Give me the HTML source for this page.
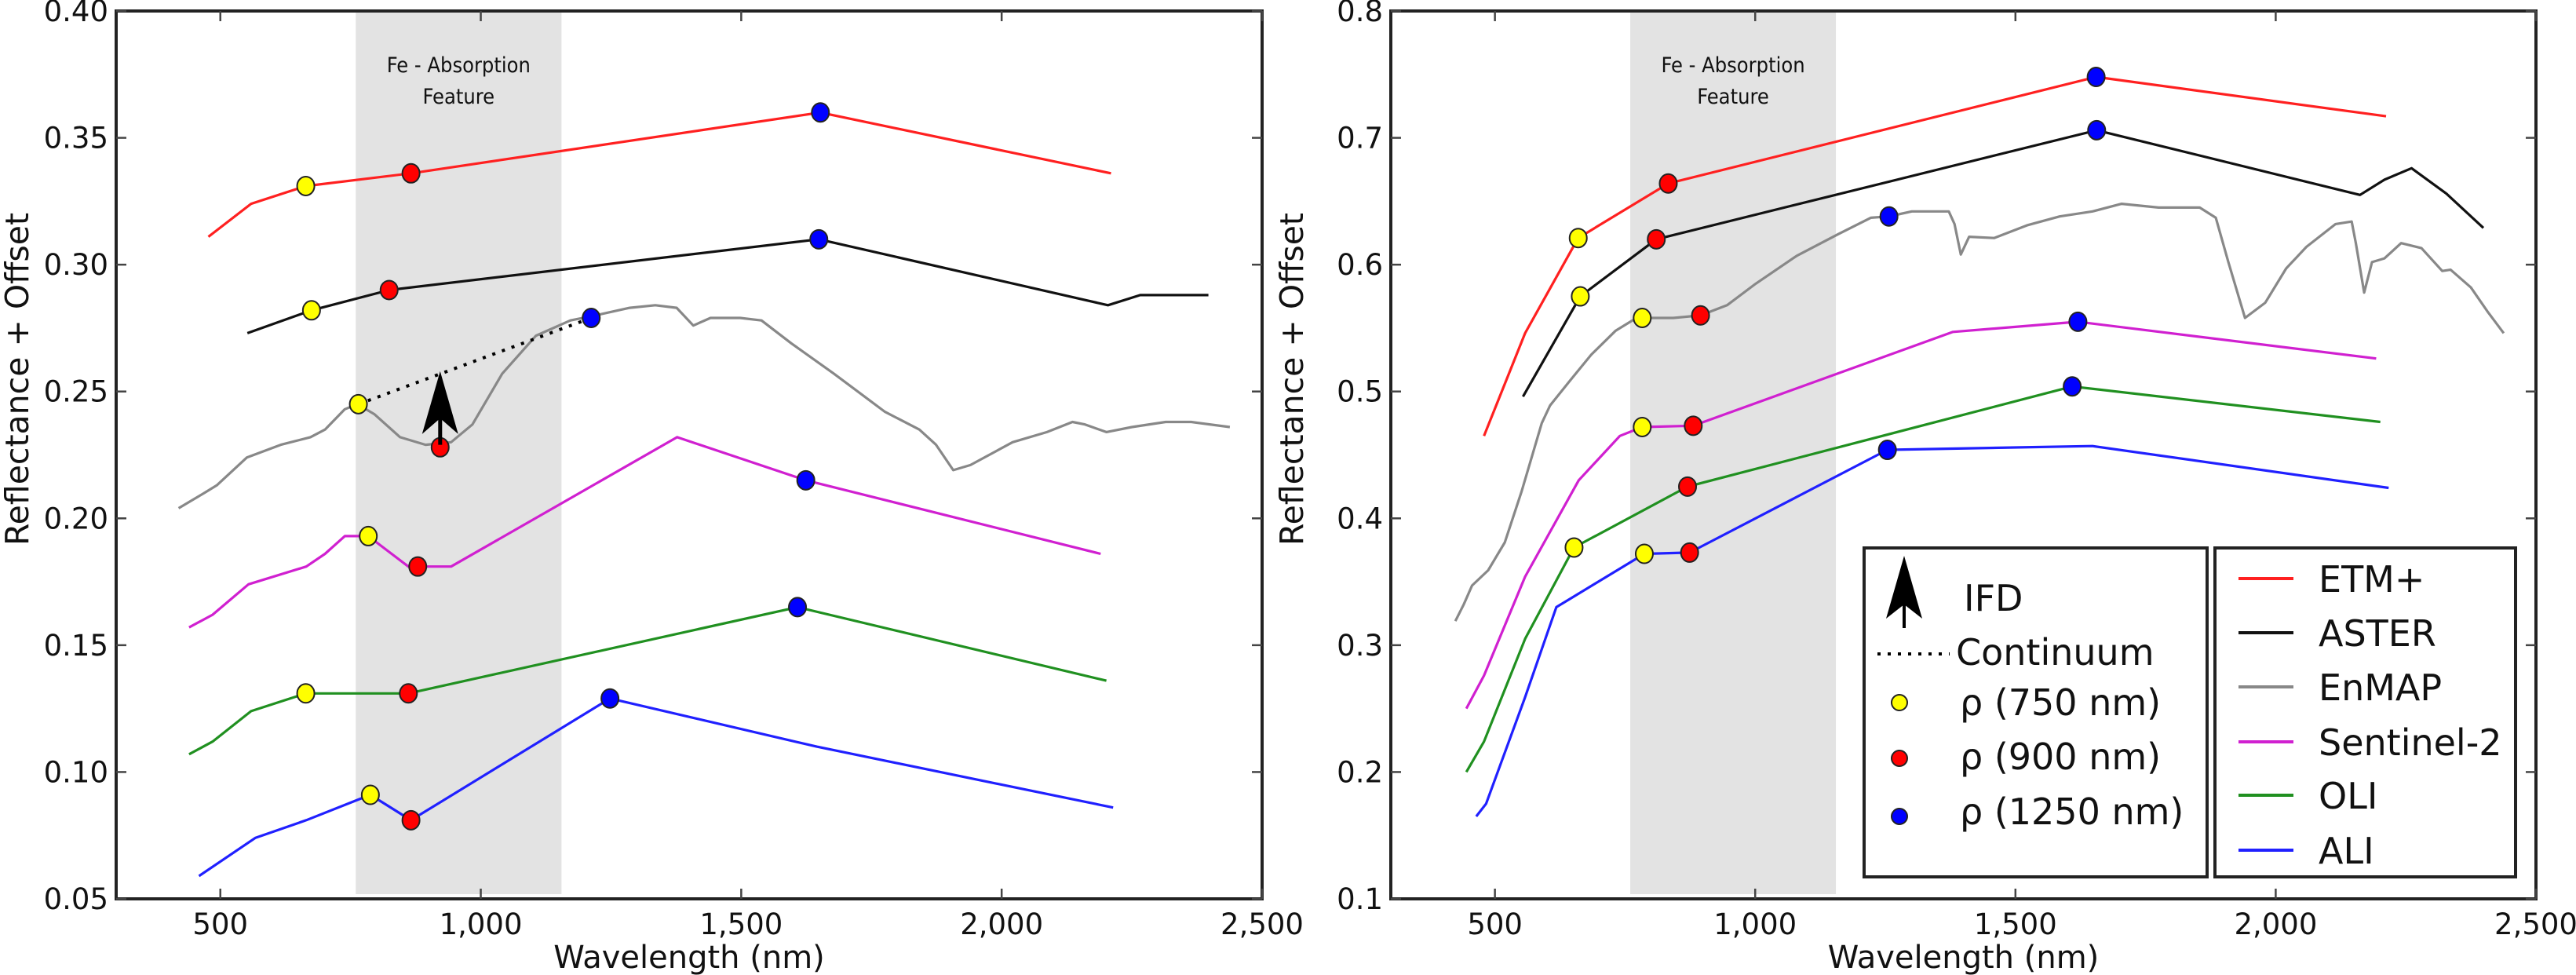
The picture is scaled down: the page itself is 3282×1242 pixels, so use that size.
<!DOCTYPE html>
<html><head><meta charset="utf-8"><style>
html,body{margin:0;padding:0;background:#fff;}
svg{display:block;}
text{font-family:"DejaVu Sans","Liberation Sans",sans-serif;fill:#111;}
</style></head><body>
<svg id="fig" width="3282" height="1242" viewBox="0 0 3282 1242" xmlns="http://www.w3.org/2000/svg"></svg>
<script>
// ---- data (wavelength nm, reflectance+offset) ----
const xTicks = [500, 1000, 1500, 2000, 2500];
const xTickLabels = ["500", "1,000", "1,500", "2,000", "2,500"];
const yTicksL = [0.05, 0.10, 0.15, 0.20, 0.25, 0.30, 0.35, 0.40];
const yTickLabelsL = ["0.05","0.10","0.15","0.20","0.25","0.30","0.35","0.40"];
const yTicksR = [0.1,0.2,0.3,0.4,0.5,0.6,0.7,0.8];
const yTickLabelsR = ["0.1","0.2","0.3","0.4","0.5","0.6","0.7","0.8"];
const shadeRange = [760, 1155];

const etmL_x = [477,559,664,866,1652,2210];
const etmL_y = [0.311,0.324,0.331,0.336,0.360,0.336];
const asterL_x = [552,675,824,1649,2204,2266,2397];
const asterL_y = [0.273,0.282,0.290,0.310,0.284,0.288,0.288];
const enmapL_x = [420,469,493,551,616,673,701,739,763,796,845,894,943,984,1041,1106,1172,1220,1286,1335,1376,1408,1441,1498,1539,1596,1678,1776,1842,1874,1907,1940,2021,2087,2136,2160,2201,2250,2315,2364,2438];
const enmapL_y = [0.204,0.210,0.213,0.224,0.229,0.232,0.235,0.243,0.245,0.241,0.232,0.229,0.230,0.237,0.257,0.272,0.278,0.280,0.283,0.284,0.283,0.276,0.279,0.279,0.278,0.269,0.257,0.242,0.235,0.229,0.219,0.221,0.230,0.234,0.238,0.237,0.234,0.236,0.238,0.238,0.236];
const s2L_x = [440,485,554,665,701,739,771,784,861,879,943,1377,1624,2190];
const s2L_y = [0.157,0.162,0.174,0.181,0.186,0.193,0.193,0.193,0.181,0.181,0.181,0.232,0.215,0.186];
const oliL_x = [440,485,559,664,861,1608,2201];
const oliL_y = [0.107,0.112,0.124,0.131,0.131,0.165,0.136];
const aliL_x = [459,567,665,763,788,866,1248,1645,2214];
const aliL_y = [0.059,0.074,0.081,0.089,0.091,0.081,0.129,0.110,0.086];
// markers left: [wl, value, color]
const yellowL_x = [664,675,765,784,664,788];
const yellowL_y = [0.331,0.282,0.245,0.193,0.131,0.091];
const redL_x = [866,824,922,879,861,866];
const redL_y = [0.336,0.290,0.228,0.181,0.131,0.081];
const blueL_x = [1652,1649,1212,1624,1608,1248];
const blueL_y = [0.360,0.310,0.279,0.215,0.165,0.129];
const continuum_x = [765,1212];
const continuum_y = [0.245,0.279];
const ifd_x = 922;
const ifd_y = [0.229,0.258];

const etmR_x = [479,558,660,833,1655,2212];
const etmR_y = [0.465,0.546,0.621,0.664,0.748,0.717];
const asterR_x = [554,664,810,1656,2162,2209,2261,2328,2399];
const asterR_y = [0.496,0.575,0.620,0.706,0.655,0.667,0.676,0.656,0.629];
const enmapR_x = [424,440,456,487,519,551,590,606,645,685,732,764,783,843,895,946,1001,1080,1159,1222,1257,1301,1372,1383,1395,1411,1459,1522,1585,1648,1704,1775,1854,1885,1909,1941,1980,2020,2059,2115,2146,2154,2170,2185,2209,2241,2280,2320,2336,2375,2407,2438];
const enmapR_y = [0.319,0.332,0.347,0.359,0.381,0.421,0.475,0.489,0.509,0.529,0.548,0.556,0.558,0.558,0.560,0.568,0.585,0.607,0.624,0.637,0.638,0.642,0.642,0.632,0.608,0.622,0.621,0.631,0.638,0.642,0.648,0.645,0.645,0.637,0.602,0.558,0.570,0.597,0.614,0.632,0.634,0.617,0.578,0.602,0.605,0.617,0.613,0.595,0.596,0.582,0.563,0.546];
const s2R_x = [445,479,558,661,740,783,881,1380,1620,2193];
const s2R_y = [0.250,0.276,0.354,0.430,0.465,0.472,0.473,0.547,0.555,0.526];
const oliR_x = [445,479,558,652,870,1609,2201];
const oliR_y = [0.200,0.224,0.305,0.377,0.425,0.504,0.476];
const aliR_x = [464,483,558,618,787,874,1254,1648,2217];
const aliR_y = [0.165,0.175,0.259,0.330,0.372,0.373,0.454,0.457,0.424];
const yellowR_x = [660,664,783,783,652,787];
const yellowR_y = [0.621,0.575,0.558,0.472,0.377,0.372];
const redR_x = [833,810,895,881,870,874];
const redR_y = [0.664,0.620,0.560,0.473,0.425,0.373];
const blueR_x = [1655,1656,1257,1620,1609,1254];
const blueR_y = [0.748,0.706,0.638,0.555,0.504,0.454];

const seriesNames = ["ETM+","ASTER","EnMAP","Sentinel-2","OLI","ALI"];
const seriesColors = ["#ff2020","#111111","#888888","#d020d0","#209020","#2020ff"];

const NS = "http://www.w3.org/2000/svg";
const svg = document.getElementById('fig');
function el(tag, attrs, parent){
  const e = document.createElementNS(NS, tag);
  for (const k in attrs) e.setAttribute(k, attrs[k]);
  (parent||svg).appendChild(e);
  return e;
}

function makePanel(cfg){
  const g = el('g', {});
  
  
  const X = v => cfg.x0 + (v - 300) / 2200 * (cfg.x1 - cfg.x0);
  const Y = v => cfg.y1 - (v - cfg.ymin) / (cfg.ymax - cfg.ymin) * (cfg.y1 - cfg.y0);
  // shade
  const sh = el('rect', {x:X(shadeRange[0]), y:cfg.y0, width:X(shadeRange[1])-X(shadeRange[0]), height:cfg.y1-cfg.y0-6, fill:'#e3e3e3'}, g);
  
  
  const cx = (X(shadeRange[0])+X(shadeRange[1]))/2;
  const t1 = el('text', {x:cx, y:92, 'text-anchor':'middle', 'font-size':27, style:'font-family:"DejaVu Sans Condensed","DejaVu Sans",sans-serif'}, g);
  t1.textContent = 'Fe - Absorption';
  
  
  const t2 = el('text', {x:cx, y:132, 'text-anchor':'middle', 'font-size':27, style:'font-family:"DejaVu Sans Condensed","DejaVu Sans",sans-serif'}, g);
  t2.textContent = 'Feature';
  
  
  // series
  cfg.series.forEach((s, i) => {
    const pts = s.x.map((v, j) => X(v).toFixed(1) + ',' + Y(s.y[j]).toFixed(1)).join(' ');
    const pl = el('polyline', {points:pts, fill:'none', stroke:seriesColors[i], 'stroke-width':3.2, 'stroke-linejoin':'round'}, g);
    
    
  });
  // continuum + ifd
  if (cfg.continuum){
    const c = el('line', {x1:X(continuum_x[0]), y1:Y(continuum_y[0]), x2:X(continuum_x[1]), y2:Y(continuum_y[1]), stroke:'#000', 'stroke-width':4, 'stroke-dasharray':'4 9'}, g);
    
    
  }
  // markers
  const mk = (xs, ys, col, nm) => xs.forEach((v, j) => {
    const m = el('ellipse', {cx:X(v), cy:Y(ys[j]), rx:11, ry:12, fill:col, stroke:'#222', 'stroke-width':2}, g);
    
    
  });
  mk(cfg.yx, cfg.yy, '#ffff00', 'marker-750nm');
  mk(cfg.rx, cfg.ry, '#ff0000', 'marker-900nm');
  mk(cfg.bx, cfg.by, '#0000ff', 'marker-1250nm');
  if (cfg.continuum){
    const ax = X(ifd_x), yb = Y(ifd_y[0]), yt = Y(ifd_y[1]);
    const sh2 = el('line', {x1:ax, y1:yb, x2:ax, y2:yt+40, stroke:'#000', 'stroke-width':5}, g);
    
    
    const hd = el('polygon', {points:`${ax},${yt} ${ax+23},${yt+80} ${ax},${yt+60} ${ax-23},${yt+80}`, fill:'#000'}, g);
    
    
  }
  // frame + ticks
  const fr = el('rect', {x:cfg.x0, y:cfg.y0, width:cfg.x1-cfg.x0, height:cfg.y1-cfg.y0, fill:'none', stroke:'#222', 'stroke-width':4}, g);
  
  
  xTicks.forEach((v, j) => {
    const x = X(v);
    el('line', {x1:x, y1:cfg.y1, x2:x, y2:cfg.y1-13, stroke:'#444', 'stroke-width':2.5}, g);
    el('line', {x1:x, y1:cfg.y0, x2:x, y2:cfg.y0+13, stroke:'#444', 'stroke-width':2.5}, g);
    const t = el('text', {x:x, y:cfg.y1+45, 'text-anchor':'middle', 'font-size':37}, g);
    t.textContent = xTickLabels[j];
    
    
  });
  cfg.yt.forEach((v, j) => {
    const y = Y(v);
    el('line', {x1:cfg.x0, y1:y, x2:cfg.x0+13, y2:y, stroke:'#444', 'stroke-width':2.5}, g);
    el('line', {x1:cfg.x1, y1:y, x2:cfg.x1-13, y2:y, stroke:'#444', 'stroke-width':2.5}, g);
    const t = el('text', {x:cfg.x0-10, y:y+13, 'text-anchor':'end', 'font-size':37}, g);
    t.textContent = cfg.ytl[j];
    
    
  });
  const xt = el('text', {x:(cfg.x0+cfg.x1)/2, y:1233, 'text-anchor':'middle', 'font-size':40}, g);
  xt.textContent = 'Wavelength (nm)';
  
  
  const ytx = cfg.x0 - 112;
  const yt = el('text', {x:ytx, y:483, 'text-anchor':'middle', 'font-size':41, transform:`rotate(-90 ${ytx} 483)`}, g);
  yt.textContent = 'Reflectance + Offset';
  
  
}

makePanel({name:'left-panel', x0:148, x1:1608, y0:14, y1:1145, ymin:0.05, ymax:0.40, yt:yTicksL, ytl:yTickLabelsL,
  series:[{x:etmL_x,y:etmL_y},{x:asterL_x,y:asterL_y},{x:enmapL_x,y:enmapL_y},{x:s2L_x,y:s2L_y},{x:oliL_x,y:oliL_y},{x:aliL_x,y:aliL_y}],
  yx:yellowL_x, yy:yellowL_y, rx:redL_x, ry:redL_y, bx:blueL_x, by:blueL_y, continuum:true});
makePanel({name:'right-panel', x0:1772, x1:3231, y0:14, y1:1145, ymin:0.1, ymax:0.8, yt:yTicksR, ytl:yTickLabelsR,
  series:[{x:etmR_x,y:etmR_y},{x:asterR_x,y:asterR_y},{x:enmapR_x,y:enmapR_y},{x:s2R_x,y:s2R_y},{x:oliR_x,y:oliR_y},{x:aliR_x,y:aliR_y}],
  yx:yellowR_x, yy:yellowR_y, rx:redR_x, ry:redR_y, bx:blueR_x, by:blueR_y, continuum:false});

// legend 1
const lg1 = el('g', {});


el('rect', {x:2375, y:698, width:437, height:419, fill:'#fff', stroke:'#222', 'stroke-width':4}, lg1);
el('line', {x1:2426, y1:800, x2:2426, y2:740, stroke:'#000', 'stroke-width':4}, lg1);
el('polygon', {points:'2426,708 2449,788 2426,770 2403,788', fill:'#000'}, lg1);
el('line', {x1:2392, y1:833, x2:2484, y2:833, stroke:'#000', 'stroke-width':4, 'stroke-dasharray':'4 9'}, lg1);
[['#ffff00',895],['#ff0000',966],['#0000ff',1040]].forEach(([c,y]) => {
  const m = el('circle', {cx:2420, cy:y, r:10, fill:c, stroke:'#222', 'stroke-width':2}, lg1);
  
  
});
[['IFD',2502,778],['Continuum',2492,847],['ρ (750 nm)',2497,911],['ρ (900 nm)',2497,980],['ρ (1250 nm)',2497,1050]].forEach(([s,x,y]) => {
  const t = el('text', {x:x, y:y, 'font-size':46}, lg1);
  t.textContent = s;
  
  
});
// legend 2
const lg2 = el('g', {});


el('rect', {x:2822, y:698, width:383, height:419, fill:'#fff', stroke:'#222', 'stroke-width':4}, lg2);
const legY = [737, 806, 875, 945, 1013, 1083];
seriesNames.forEach((n, i) => {
  const l = el('line', {x1:2852, y1:legY[i], x2:2922, y2:legY[i], stroke:seriesColors[i], 'stroke-width':4}, lg2);
  
  
  const t = el('text', {x:2954, y:legY[i]+17, 'font-size':46}, lg2);
  t.textContent = n;
  
  
});
</script>
</body></html>
